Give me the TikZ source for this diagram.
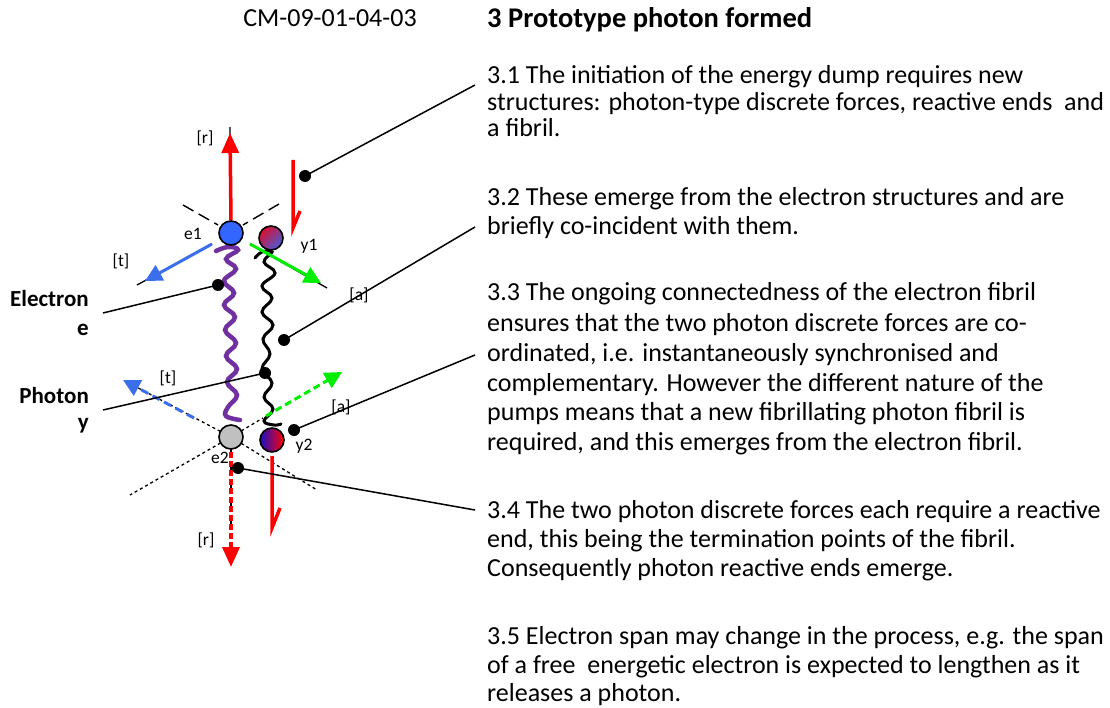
\documentclass[tikz,border=0pt]{standalone}
\usepackage{fontspec}
\setmainfont{Carlito}
\usetikzlibrary{arrows.meta}
\definecolor{eblue}{HTML}{3366FF}
\definecolor{tblue}{HTML}{3A6EEA}
\definecolor{fpurp}{HTML}{7030A0}
\definecolor{agreen}{HTML}{00EE00}
\definecolor{gred}{HTML}{D8102E}
\definecolor{gblue}{HTML}{4A5AD8}
\definecolor{dblue}{HTML}{1A10C8}
\definecolor{egray}{HTML}{C0C0C0}
\tikzset{
  ball/.style={circle, draw=black, line width=1.6, minimum size=24, inner sep=0},
  dot/.style={circle, fill=black, minimum size=12, inner sep=0},
  lead/.style={line width=1.5, black},
  fine/.style={line width=1.3, black},
  dots/.style={line width=1.3, black, dash pattern=on 3 off 3},
  bigtip/.style={-{Triangle[length=20,width=17]}},
  redarr/.style={red, line width=3.5, bigtip},
  small/.style={font=\fontsize{17.5}{20}\selectfont, inner sep=0},
  body/.style={font=\fontsize{26}{30}\selectfont, anchor=base west, inner sep=0},
  side/.style={font=\bfseries\fontsize{23}{26}\selectfont, anchor=base east, inner sep=0},
}
\begin{document}
\begin{tikzpicture}[x=1pt,y=-1pt]
\useasboundingbox[fill=white] (0,0) rectangle (1110,708);

% ---------- texts on the right ----------
\node[font=\fontsize{26}{30}\selectfont, anchor=base, inner sep=0] (code) at (330,27) {CM-09-01-04-03};
\node[body, font=\bfseries\fontsize{28.5}{32}\selectfont] (title) at (487,28) {3 Prototype photon formed};

\node[body] (t11) at (487,84) {3.1 The initiation of the energy dump requires new};
\node[body] (t12) at (487,111) {structures: photon-type discrete forces, reactive ends\ \ and};
\node[body] (t13) at (487,137) {a fibril.};

\node[body] (t21) at (487,206) {3.2 These emerge from the electron structures and are};
\node[body] (t22) at (487,235) {briefly co-incident with them.};

\node[body] (t31) at (487,301) {3.3 The ongoing connectedness of the electron fibril};
\node[body] (t32) at (487,331) {ensures that the two photon discrete forces are co-};
\node[body] (t33) at (487,361) {ordinated, i.e. instantaneously synchronised and};
\node[body] (t34) at (487,391) {complementary. However the different nature of the};
\node[body] (t35) at (487,420) {pumps means that a new fibrillating photon fibril is};
\node[body] (t36) at (487,450) {required, and this emerges from the electron fibril.};

\node[body] (t41) at (487,518) {3.4 The two photon discrete forces each require a reactive};
\node[body] (t42) at (487,547) {end, this being the termination points of the fibril.};
\node[body] (t43) at (487,576) {Consequently photon reactive ends emerge.};

\node[body] (t51) at (487,644) {3.5 Electron span may change in the process, e.g. the span};
\node[body] (t52) at (487,673) {of a free\ \ energetic electron is expected to lengthen as it};
\node[body] (t53) at (487,701) {releases a photon.};

% ---------- side labels ----------
\node[side] (el1) at (89,306) {Electron};
\node[side] (el2) at (89,335) {e};
\node[side] (ph1) at (89,403) {Photon};
\node[side] (ph2) at (89,429) {y};

% ---------- guide lines around e1 ----------
\coordinate (e1up) at (230,127);
\coordinate (e1t) at (137,285);
\coordinate (e1a) at (327,288);
\draw[line width=1.4, dash pattern=on 12 off 6] (183,205) -- (218,225);
\draw[line width=1.4, dash pattern=on 12 off 6] (279,204) -- (243,225);
\draw[fine] (231,222) -- (e1up);
\draw[fine] (212,244) -- (e1t);
\draw[fine] (250,244) -- (e1a);

% ---------- guide lines around e2 ----------
\coordinate (e2ll) at (130,495);
\coordinate (e2ur) at (263,418);
\coordinate (e2ul) at (125,381);
\coordinate (e2lr) at (317,490);
\coordinate (e2dn) at (231,530);
\draw[dots] (231,437) -- (e2ll);
\draw[dots] (231,437) -- (e2ur);
\draw[dots] (231,437) -- (e2ul);
\draw[dots] (231,437) -- (e2lr);
\draw[dots] (231,437) -- (e2dn);

% ---------- fibrils ----------
\draw[fpurp, line width=4.5, line cap=round] plot[smooth, tension=0.7] coordinates {
 (216,251) (228,247) (238,250) (226,259) (236,269) (224,281) (234,293) (224,305)
 (235,317) (225,330) (236,343) (226,356) (237,369) (227,382) (237,395) (228,407)
 (226,416) (240,420)};
\draw[black, line width=3, line cap=round] plot[smooth, tension=0.7] coordinates {
 (255,258) (262,252) (272,252) (264,262) (275,273) (262,286) (272,298) (262,312)
 (273,325) (263,339) (270,354) (262,369) (272,383) (264,397) (273,409) (264,421)
 (274,425) (281,424)};

% ---------- particles ----------
\node[ball, fill=eblue] (e1) at (231,233) {};
\node[ball, top color=gred, bottom color=gblue, shading angle=45] (y1) at (271,238) {};
\node[ball, fill=egray] (e2) at (231,437) {};
\node[ball, left color=dblue, right color=red] (y2) at (272,440) {};

% ---------- arrows ----------
\draw[redarr] (e1.north) -- (230,133);
\draw[tblue, line width=3, -{Triangle[length=17,width=17]}] (212,244) -- (145,281);
\draw[agreen, line width=3, -{Triangle[length=17,width=17]}] (250,244) -- (321,283);
\draw[tblue, line width=3, dash pattern=on 8 off 5, -{Triangle[length=17,width=17]}] (194,418) -- (123,380);
\draw[agreen, line width=3, dash pattern=on 7 off 4, -{Triangle[length=17,width=17]}] (266,416) -- (342,372);
\draw[red, line width=3.5, dash pattern=on 6 off 3, bigtip] (231,452) -- (231,567);

% half-arrows (harpoons)
\draw[red, line width=3.5, line join=miter] (293,160) -- (293,228) -- (300,211);
\draw[red, line width=3.5, line join=miter] (272,456) -- (272,528) -- (280,508);

% ---------- small labels ----------
\node[small] (lr1) at (205,138) {[r]};
\node[small] (le1) at (193,234) {e1};
\node[small] (lt1) at (121,261) {[t]};
\node[small] (ly1) at (309,246) {y1};
\node[small] (la1) at (359,295) {[a]};
\node[small] (lt2) at (168,378) {[t]};
\node[small] (la2) at (341,407) {[a]};
\node[small] (le2) at (220,458) {e2};
\node[small] (ly2) at (304,446) {y2};
\node[small] (lr2) at (206,540) {[r]};

% ---------- leader lines ----------
\coordinate (k1) at (475,85);
\coordinate (k2) at (103,313);
\coordinate (k3) at (475,227);
\coordinate (k4) at (103,410);
\coordinate (k5) at (475,355);
\coordinate (k6) at (475,510);
\node[dot] (d1) at (305,176) {};
\node[dot] (d2) at (218,285) {};
\node[dot] (d3) at (284,340) {};
\node[dot] (d4) at (265,373) {};
\node[dot] (d5) at (294,430) {};
\node[dot] (d6) at (238,468) {};
\draw[lead] (d1.center) -- (k1);
\draw[lead] (d2.center) -- (k2);
\draw[lead] (d3.center) -- (k3);
\draw[lead] (d4.center) -- (k4);
\draw[lead] (d5.center) -- (k5);
\draw[lead] (d6.center) -- (k6);
\end{tikzpicture}
\end{document}
